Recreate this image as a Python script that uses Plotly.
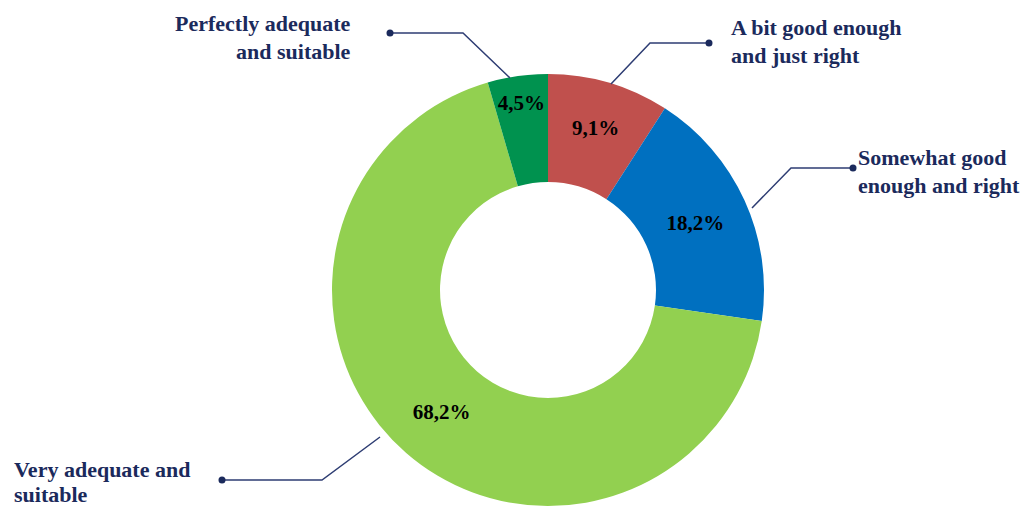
import plotly.graph_objects as go

# Survey answers, clockwise from 12 o'clock
categories = ["A bit good enough and just right",
              "Somewhat good enough and right",
              "Very adequate and suitable",
              "Perfectly adequate and suitable"]
shares = [9.1, 18.2, 68.2, 4.5]
share_labels = ["9,1%", "18,2%", "68,2%", "4,5%"]
colors = ["#C0504D", "#0070C0", "#92D050", "#00924F"]

W, H = 1027, 509
NAVY_TEXT = "#1B2A5C"
NAVY_LINE = "#2E3D73"


def px(x):
    return x / W


def py(y):
    return 1 - y / H


# donut centred at (548, 290) px with outer radius 216 px
cx, cy, r = 548, 290, 216

fig = go.Figure(go.Pie(
    labels=categories,
    values=shares,
    text=share_labels,
    textinfo="text",
    textposition="inside",
    insidetextorientation="horizontal",
    textfont=dict(family="Liberation Serif", size=21, color="black", weight="bold"),
    marker=dict(colors=colors, line=dict(width=0)),
    hole=0.5,
    sort=False,
    direction="clockwise",
    rotation=0,
    domain=dict(x=[px(cx - r), px(cx + r)], y=[py(cy + r), py(cy - r)]),
    showlegend=False,
    hoverinfo="label+text",
))

# callout leaders: text lines, dot, elbow, end on ring, text x, first line y, line gap, alignment
callouts = [
    (["Perfectly adequate", "and suitable"], (390, 33), (463, 33), (510, 78), 353, 23, 28, "right"),
    (["A bit good enough", "and just right"], (709, 43), (650, 43), (611, 84), 729, 28, 28, "left"),
    (["Somewhat good", "enough and right"], (853, 168), (791, 168), (752, 208), 856, 157, 28, "left"),
    (["Very adequate and", "suitable"], (222, 480), (322, 480), (380, 437), 12, 469, 25, "left"),
]

shapes = []
annotations = []
for lines, dot, elbow, end, tx, ty, gap, align in callouts:
    path = "M {} {} L {} {} L {} {}".format(px(dot[0]), py(dot[1]), px(elbow[0]), py(elbow[1]),
                                           px(end[0]), py(end[1]))
    shapes.append(dict(type="path", path=path, xref="paper", yref="paper",
                       line=dict(color=NAVY_LINE, width=1.5)))
    shapes.append(dict(type="circle", xref="paper", yref="paper",
                       x0=px(dot[0] - 3.5), x1=px(dot[0] + 3.5),
                       y0=py(dot[1] + 3.5), y1=py(dot[1] - 3.5),
                       fillcolor=NAVY_TEXT, line=dict(width=0)))
    for i, line in enumerate(lines):
        annotations.append(dict(text=line, x=px(tx), y=py(ty + i * gap),
                                xref="paper", yref="paper",
                                xanchor="right" if align == "right" else "left",
                                yanchor="middle", showarrow=False,
                                font=dict(family="Liberation Serif", size=22,
                                          color=NAVY_TEXT, weight="bold")))

fig.update_layout(
    width=W, height=H,
    margin=dict(l=0, r=0, t=0, b=0),
    paper_bgcolor="white",
    plot_bgcolor="white",
    shapes=shapes,
    annotations=annotations,
)

fig.write_html("out.html")
